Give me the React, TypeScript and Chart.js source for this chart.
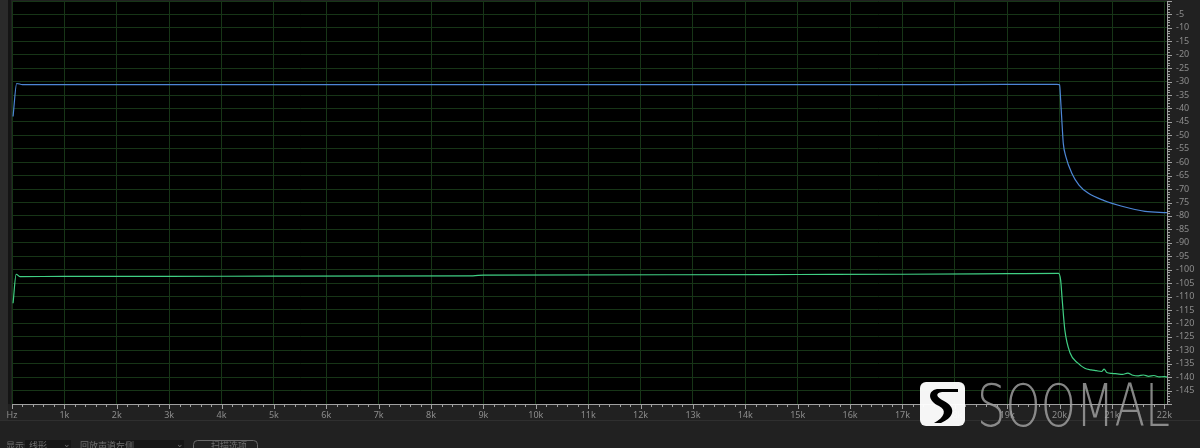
import React, { useEffect, useRef } from "react";
import { Chart, registerables } from "chart.js";

Chart.register(...registerables);

// ---- data (Hz, dB) ----
const blueFreq = [20, 90, 200, 1000, 3000, 6000, 9000, 12000, 15000, 18000, 19950, 20000, 20020, 20050, 20070, 20120, 20230, 20370, 20550, 20850, 21190, 21630, 22050];
const blueDb = [-43, -30.7, -31.1, -31.1, -31.1, -31.1, -31.1, -31.1, -31.1, -31.1, -31.0, -31.2, -37, -47, -53, -58, -64, -68.5, -71.6, -74.3, -76.4, -78.3, -78.8];

const greenFreq = [20, 80, 150, 1000, 3000, 5000, 8800, 9000, 12500, 15000, 17000, 19000, 19980, 20020, 20050, 20100, 20200, 20350, 20480, 20600, 20700, 20800, 20850, 20900, 21000, 21100, 21200, 21300, 21400, 21500, 21600, 21700, 21800, 21900, 22000, 22050];
const greenDb = [-112.5, -101.7, -102.6, -102.5, -102.5, -102.4, -102.3, -102.0, -101.9, -101.8, -101.7, -101.5, -101.4, -104, -111.4, -122.5, -131, -134.8, -136.7, -137.3, -137.6, -137.9, -137.0, -138.3, -138.6, -138.8, -139.0, -138.5, -139.3, -139.5, -139.2, -139.7, -139.4, -139.9, -139.8, -140];

const xTickLabels = ["Hz", "1k", "2k", "3k", "4k", "5k", "6k", "7k", "8k", "9k", "10k", "11k", "12k", "13k", "14k", "15k", "16k", "17k", "18k", "19k", "20k", "21k", "22k"];

const X_MAX = 22050;
const Y_MIN = -150;
const Y_MAX = 0;

const framePlugin = {
  id: "frame",
  beforeDraw(chart: any) {
    const { ctx, chartArea: a, width, height } = chart;
    ctx.save();
    ctx.fillStyle = "#212121";
    ctx.fillRect(0, 0, width, height);
    ctx.fillStyle = "#2a2a2a";
    ctx.fillRect(0, 0, 8, 421);
    ctx.fillStyle = "#141414";
    ctx.fillRect(8, 0, 3, a.bottom);
    ctx.fillStyle = "#000";
    ctx.fillRect(a.left, a.top, a.right - a.left, a.bottom - a.top);
    ctx.strokeStyle = "#2f2f2f";
    ctx.lineWidth = 1;
    ctx.beginPath();
    ctx.moveTo(0, 420.5);
    ctx.lineTo(1200, 420.5);
    ctx.stroke();
    ctx.restore();
  },
  afterDraw(chart: any) {
    const { ctx, chartArea: a, scales } = chart;
    const xs = scales.x;
    const ys = scales.y;
    ctx.save();
    ctx.strokeStyle = "#a0a0a0";
    ctx.lineWidth = 1;
    ctx.beginPath();
    for (let f = 0; f <= X_MAX; f += 200) {
      const px = Math.round(xs.getPixelForValue(f)) + 0.5;
      const len = f % 1000 === 0 ? 5 : 3;
      ctx.moveTo(px, a.bottom);
      ctx.lineTo(px, a.bottom + len);
    }
    for (let d = Y_MAX; d >= Y_MIN; d -= 1) {
      const py = Math.round(ys.getPixelForValue(d)) + 0.5;
      const len = d % 5 === 0 ? 5 : 3;
      ctx.moveTo(a.right, py);
      ctx.lineTo(a.right + len, py);
    }
    ctx.stroke();

    // watermark logo
    const lx = 920, ly = 382, lw = 45, lh = 44;
    ctx.fillStyle = "rgba(255,255,255,0.96)";
    ctx.beginPath();
    ctx.roundRect(lx, ly, lw, lh, 6);
    ctx.fill();
    ctx.fillStyle = "#000";
    ctx.beginPath();
    ctx.moveTo(lx + 38, ly + 7);
    ctx.lineTo(lx + 17, ly + 7);
    ctx.bezierCurveTo(lx + 7, ly + 9, lx + 8, ly + 19, lx + 19, ly + 24);
    ctx.bezierCurveTo(lx + 27, ly + 28, lx + 25, ly + 35, lx + 14, ly + 41);
    ctx.lineTo(lx + 21, ly + 41);
    ctx.bezierCurveTo(lx + 35, ly + 35, lx + 36, ly + 25, lx + 24, ly + 19);
    ctx.bezierCurveTo(lx + 16, ly + 15, lx + 15, ly + 11, lx + 22, ly + 10);
    ctx.lineTo(lx + 38, ly + 10);
    ctx.closePath();
    ctx.fill();

    ctx.fillStyle = "rgba(165,165,165,0.8)";
    ctx.font = "200 58px 'DejaVu Sans'";
    ctx.textBaseline = "alphabetic";
    ctx.textAlign = "left";
    ctx.fillText("SOOMAL", 977, 426, 193);

    // bottom UI controls (partly cut off)
    ctx.font = "9px 'Noto Sans CJK SC', 'Noto Sans'";
    ctx.fillStyle = "#6f6f6f";
    ctx.fillText("显示:", 6, 449);
    ctx.fillStyle = "#171717";
    ctx.fillRect(25, 440, 46, 10);
    ctx.fillRect(112, 440, 72, 10);
    ctx.fillStyle = "#6f6f6f";
    ctx.fillText("线形", 29, 449);
    ctx.fillText("⌄", 63, 447);
    ctx.fillText("回放声道:", 80, 449);
    ctx.fillText("左侧", 116, 449);
    ctx.fillText("⌄", 176, 447);
    ctx.strokeStyle = "#6a6a6a";
    ctx.beginPath();
    ctx.roundRect(193.5, 440.5, 64, 12, 4);
    ctx.stroke();
    ctx.fillText("扫描选项", 211, 449);
    ctx.restore();
  },
};

export default function App() {
  const ref = useRef<HTMLCanvasElement | null>(null);
  useEffect(() => {
    if (!ref.current) return;
    const blue = blueFreq.map((f, i) => ({ x: f, y: blueDb[i] }));
    const green = greenFreq.map((f, i) => ({ x: f, y: greenDb[i] }));
    const chart = new Chart(ref.current, {
      type: "line",
      data: {
        datasets: [
          { data: blue, borderColor: "#4d86d6", borderWidth: 1.2, pointRadius: 0, tension: 0, cubicInterpolationMode: "monotone" as any, fill: false },
          { data: green, borderColor: "#40cf84", borderWidth: 1.2, pointRadius: 0, tension: 0, cubicInterpolationMode: "monotone" as any, fill: false },
        ],
      },
      options: {
        animation: false,
        responsive: false,
        events: [],
        layout: { padding: { left: 12, top: 1, right: 0, bottom: 0 } },
        plugins: { legend: { display: false }, tooltip: { enabled: false } },
        scales: {
          x: {
            type: "linear",
            min: 0,
            max: X_MAX,
            afterFit: (s: any) => { s.height = 44; s.paddingLeft = 0; s.paddingRight = 0; },
            afterBuildTicks: (s: any) => {
              s.ticks = xTickLabels.map((_, i) => ({ value: i * 1000 }));
            },
            ticks: {
              autoSkip: false,
              maxRotation: 0,
              padding: 6,
              color: "#8c8c8c",
              font: { family: "'Noto Sans', sans-serif", size: 9 },
              callback: (v: any) => xTickLabels[Math.round(Number(v) / 1000)] ?? "",
            },
            grid: { color: "#173517", lineWidth: 1, drawTicks: false },
            border: { display: true, color: "#a0a0a0" },
          },
          y: {
            type: "linear",
            position: "right",
            min: Y_MIN,
            max: Y_MAX,
            afterFit: (s: any) => { s.width = 33; s.paddingTop = 0; s.paddingBottom = 0; },
            ticks: {
              stepSize: 5,
              autoSkip: false,
              padding: 9,
              color: "#8c8c8c",
              font: { family: "'Noto Sans', sans-serif", size: 9 },
              callback: (v: any) => (Number(v) === 0 || Number(v) === -150 ? "" : String(v)),
            },
            grid: { color: "#173517", lineWidth: 1, drawTicks: false },
            border: { display: true, color: "#a0a0a0" },
          },
        },
      },
      plugins: [framePlugin],
    });
    return () => chart.destroy();
  }, []);
  return (
    <div style={{ position: "fixed", left: 0, top: 0, width: 1200, height: 448 }}>
      <canvas ref={ref} width={1200} height={448} style={{ display: "block" }} />
    </div>
  );
}
